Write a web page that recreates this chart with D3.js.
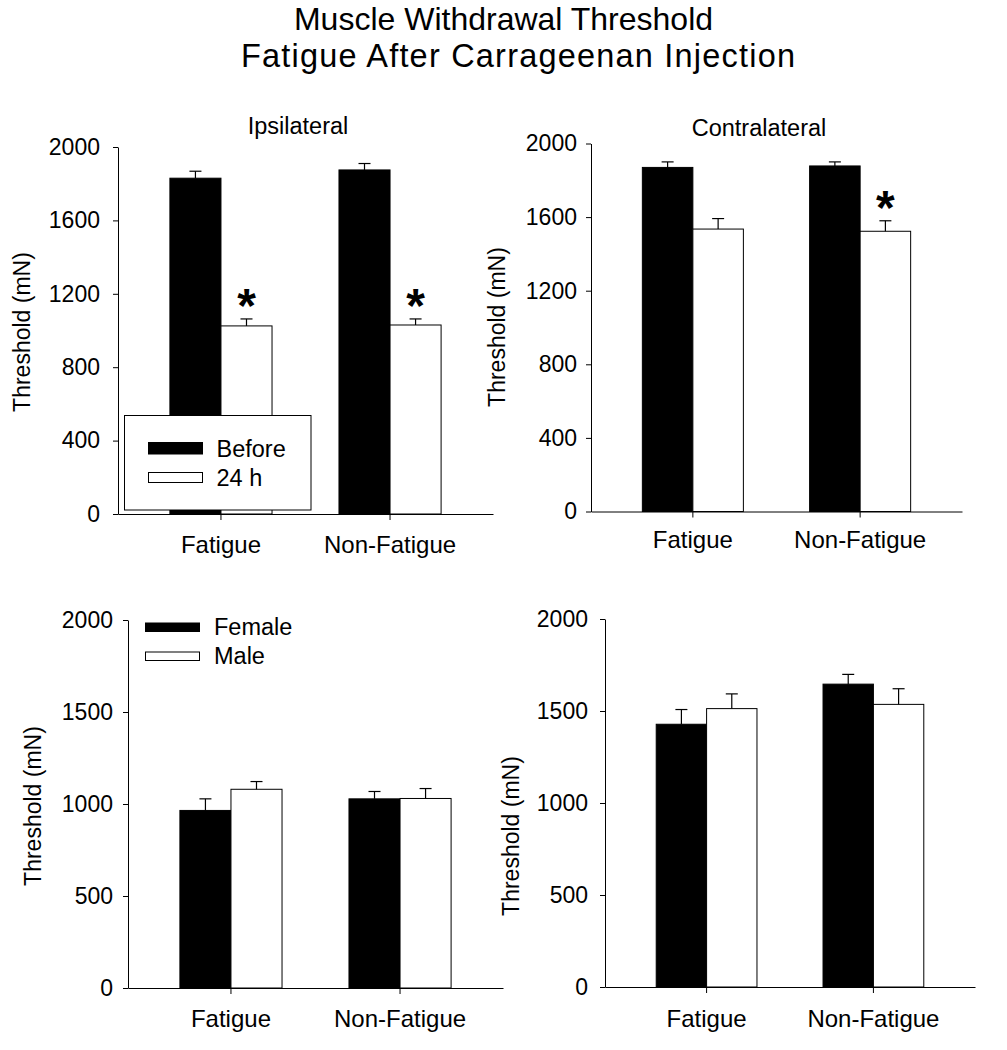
<!DOCTYPE html>
<html>
<head>
<meta charset="utf-8">
<script src="https://cdn.jsdelivr.net/npm/d3@7"></script>
<style>
  html, body { margin: 0; padding: 0; background: #fff; }
  svg { display: block; }
  text { font-family: "Liberation Sans", Arial, Helvetica, sans-serif; fill: #000; }
</style>
</head>
<body>
<svg id="chart" width="1007" height="1050"></svg>
<script>
// ---------------- DATA ----------------
const categories = ["Fatigue", "Non-Fatigue"];

// Top-left: Ipsilateral (Before vs 24 h)
const ipsiBefore   = [1830, 1875];
const ipsiBeforeSE = [38, 35];
const ipsi24h      = [1025, 1030];
const ipsi24hSE    = [38, 33];
const ipsiSig      = [true, true];

// Top-right: Contralateral (Before vs 24 h)
const contraBefore   = [1870, 1878];
const contraBeforeSE = [30, 22];
const contra24h      = [1535, 1523];
const contra24hSE    = [57, 57];
const contraSig      = [false, true];

// Bottom-left: Female vs Male (ipsilateral 24 h)
const ipsiFemale   = [965, 1028];
const ipsiFemaleSE = [63, 40];
const ipsiMale     = [1080, 1030];
const ipsiMaleSE   = [42, 54];

// Bottom-right: Female vs Male (contralateral 24 h)
const contraFemale   = [1428, 1646];
const contraFemaleSE = [80, 53];
const contraMale     = [1513, 1536];
const contraMaleSE   = [80, 85];

const topTicks    = [0, 400, 800, 1200, 1600, 2000];
const bottomTicks = [0, 500, 1000, 1500, 2000];

const titleLines   = ["Muscle Withdrawal Threshold", "Fatigue After Carrageenan Injection"];
const yAxisLabel   = "Threshold (mN)";
const legendTop    = ["Before", "24 h"];
const legendBottom = ["Female", "Male"];

// ---------------- LAYOUT ----------------
const FONT = '"Liberation Sans", Arial, Helvetica, sans-serif';
const svg = d3.select("#chart");

svg.append("text").attr("x", 503.5).attr("y", 30)
  .attr("text-anchor", "middle").style("font-size", "32px").text(titleLines[0]);
svg.append("text").attr("x", 241).attr("y", 67)
  .attr("textLength", 554).attr("lengthAdjust", "spacing")
  .style("font-size", "32.5px").text(titleLines[1]);

const panels = [
  { x0: 118, x1: 493, yT: 147, yB: 514, ticks: topTicks, tickPad: 13, catY: 39,
    title: "Ipsilateral", titleX: 298, titleY: 134, ylx: 22, yly: 332,
    series: [{ v: ipsiBefore, se: ipsiBeforeSE, fill: "#000" }, { v: ipsi24h, se: ipsi24hSE, fill: "#fff", sig: ipsiSig }],
    legend: { labels: legendTop, box: [124.5, 415.5, 186.5, 94.5], sx: 148.5, sw: 54, sy: [442.5, 472.5], sh: [11.5, 10], tx: 216.5, ty: [457, 486] } },
  { x0: 591, x1: 962, yT: 143.5, yB: 511.5, ticks: topTicks, tickPad: 9, catY: 36,
    title: "Contralateral", titleX: 759, titleY: 136, ylx: 497, yly: 327,
    series: [{ v: contraBefore, se: contraBeforeSE, fill: "#000" }, { v: contra24h, se: contra24hSE, fill: "#fff", sig: contraSig }] },
  { x0: 128, x1: 503, yT: 620, yB: 988, ticks: bottomTicks, tickPad: 10, catY: 39,
    ylx: 33, yly: 806,
    series: [{ v: ipsiFemale, se: ipsiFemaleSE, fill: "#000" }, { v: ipsiMale, se: ipsiMaleSE, fill: "#fff" }],
    legend: { labels: legendBottom, box: null, sx: 145.5, sw: 54, sy: [623, 652], sh: [8.5, 8.5], tx: 214, ty: [635, 664] } },
  { x0: 605, x1: 975, yT: 619, yB: 987, ticks: bottomTicks, tickPad: 12, catY: 40,
    ylx: 511, yly: 836,
    series: [{ v: contraFemale, se: contraFemaleSE, fill: "#000" }, { v: contraMale, se: contraMaleSE, fill: "#fff" }] }
];

panels.forEach(p => {
  const g = svg.append("g");
  const x = d3.scaleBand().domain(categories).range([p.x0, p.x1])
    .paddingInner(0.396).paddingOuter(0.307);
  const xs = d3.scaleBand().domain(d3.range(p.series.length)).range([0, x.bandwidth()]).padding(0);
  const y = d3.scaleLinear().domain([0, 2000]).range([p.yB, p.yT]);

  // bars
  p.series.forEach((s, si) => {
    const sg = g.append("g");
    sg.selectAll("rect").data(categories).join("rect")
      .attr("x", c => x(c) + xs(si))
      .attr("y", (c, i) => y(s.v[i]))
      .attr("width", xs.bandwidth())
      .attr("height", (c, i) => y(0) - y(s.v[i]))
      .attr("fill", s.fill).attr("stroke", "#000").attr("stroke-width", 1);
    // error bars (upward only)
    const eg = sg.selectAll("g.err").data(categories).join("g").attr("class", "err");
    eg.append("line")
      .attr("x1", c => x(c) + xs(si) + xs.bandwidth() / 2)
      .attr("x2", c => x(c) + xs(si) + xs.bandwidth() / 2)
      .attr("y1", (c, i) => y(s.v[i]))
      .attr("y2", (c, i) => y(s.v[i] + s.se[i]))
      .attr("stroke", "#000").attr("stroke-width", 1.2);
    eg.append("line")
      .attr("x1", c => x(c) + xs(si) + xs.bandwidth() / 2 - 6)
      .attr("x2", c => x(c) + xs(si) + xs.bandwidth() / 2 + 6)
      .attr("y1", (c, i) => y(s.v[i] + s.se[i]))
      .attr("y2", (c, i) => y(s.v[i] + s.se[i]))
      .attr("stroke", "#000").attr("stroke-width", 1.2);
    // significance asterisks
    if (s.sig) {
      sg.selectAll("text.sig").data(categories.filter((c, i) => s.sig[i])).join("text")
        .attr("class", "sig")
        .attr("x", c => x(c) + xs(si) + xs.bandwidth() / 2)
        .attr("y", c => { const i = categories.indexOf(c); return y(s.v[i] + s.se[i]) + 3; })
        .attr("text-anchor", "middle")
        .style("font-size", "48px").style("font-weight", "bold")
        .text("*");
    }
  });

  // axes
  const ya = g.append("g").attr("transform", `translate(${p.x0},0)`)
    .call(d3.axisLeft(y).tickValues(p.ticks).tickSize(5).tickSizeOuter(0).tickPadding(p.tickPad).tickFormat(d3.format("d")));
  ya.selectAll("text").style("font-size", "23px").style("font-family", FONT);
  ya.selectAll("line, path").attr("stroke", "#000").attr("stroke-width", 1);

  const xa = g.append("g").attr("transform", `translate(0,${p.yB})`)
    .call(d3.axisBottom(x).tickSize(6).tickSizeOuter(0));
  xa.selectAll("text").attr("dy", 0).attr("y", p.catY)
    .style("font-size", "24px").style("font-family", FONT);
  xa.selectAll("line, path").attr("stroke", "#000").attr("stroke-width", 1);

  // y label
  g.append("text")
    .attr("transform", `translate(${p.ylx},${p.yly}) rotate(-90)`)
    .attr("text-anchor", "middle").attr("dominant-baseline", "central")
    .style("font-size", "23px").text(yAxisLabel);

  if (p.title) {
    g.append("text").attr("x", p.titleX).attr("y", p.titleY)
      .attr("text-anchor", "middle").style("font-size", "23.5px").text(p.title);
  }

  // legend
  if (p.legend) {
    const L = p.legend;
    const lg = g.append("g");
    if (L.box) {
      lg.append("rect").attr("x", L.box[0]).attr("y", L.box[1])
        .attr("width", L.box[2]).attr("height", L.box[3])
        .attr("fill", "#fff").attr("stroke", "#000").attr("stroke-width", 1);
    }
    lg.selectAll("rect.sw").data(p.series).join("rect").attr("class", "sw")
      .attr("x", L.sx).attr("y", (d, i) => L.sy[i])
      .attr("width", L.sw).attr("height", (d, i) => L.sh[i])
      .attr("fill", d => d.fill).attr("stroke", "#000").attr("stroke-width", 1);
    lg.selectAll("text").data(L.labels).join("text")
      .attr("x", L.tx).attr("y", (d, i) => L.ty[i])
      .style("font-size", "23.5px").text(d => d);
  }
});
</script>
</body>
</html>
